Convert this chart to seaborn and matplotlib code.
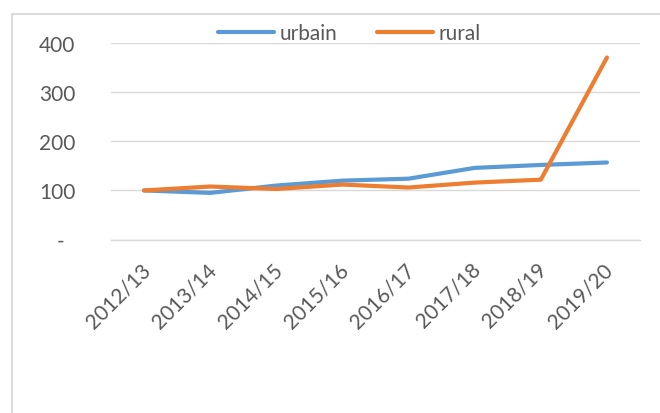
import matplotlib
matplotlib.use("Agg")
import matplotlib.pyplot as plt
import matplotlib.transforms as mtransforms
import seaborn as sns
import pandas as pd
from matplotlib.patches import Rectangle

categories = ["2012/13", "2013/14", "2014/15", "2015/16", "2016/17", "2017/18", "2018/19", "2019/20"]
urbain = [100, 95, 110, 120, 124, 146, 152, 157]
rural = [100, 108, 103, 112, 106, 116, 122, 371]
series_names = ["urbain", "rural"]
y_ticks = [0, 100, 200, 300, 400]
y_tick_labels = ["-  ", "100", "200", "300", "400"]

df = pd.DataFrame({
    "period": categories * 2,
    "value": urbain + rural,
    "series": [series_names[0]] * len(categories) + [series_names[1]] * len(categories),
})

sns.set_theme(style="white")
plt.rcParams["font.family"] = ["Lato", "DejaVu Sans"]

W, H = 660, 414
fig = plt.figure(figsize=(W / 100, H / 100), dpi=100)
ax = fig.add_axes([111 / W, 1 - 240.5 / H, (640 - 111) / W, (240.5 - 44.3) / H])

palette = {"urbain": "#5B9BD5", "rural": "#ED7D31"}
sns.lineplot(data=df, x="period", y="value", hue="series", palette=palette,
             sort=False, linewidth=3.0, ax=ax, legend=True)
for ln in ax.get_lines():
    ln.set_solid_capstyle("round")
    ln.set_solid_joinstyle("round")

ax.set_xlim(-0.5, len(categories) - 0.5)
ax.set_ylim(0, 400)
ax.set_yticks(y_ticks)
ax.set_yticklabels(y_tick_labels)
ax.set_xlabel("")
ax.set_ylabel("")
ax.grid(axis="y", color="#D9D9D9", linewidth=1.0)
ax.grid(axis="x", visible=False)
ax.set_axisbelow(True)
for s in ["top", "right", "left"]:
    ax.spines[s].set_visible(False)
ax.spines["bottom"].set_color("#D9D9D9")
ax.spines["bottom"].set_linewidth(1.0)

ax.tick_params(axis="y", length=0, pad=25.5, labelsize=15, labelcolor="#595959")
ax.tick_params(axis="x", length=0, pad=19, labelsize=15, labelcolor="#595959")
offset = mtransforms.ScaledTranslation(3 / 100, 0, fig.dpi_scale_trans)
for lab in ax.get_xticklabels():
    lab.set_rotation(45)
    lab.set_ha("right")
    lab.set_va("center")
    lab.set_rotation_mode("anchor")
    lab.set_transform(lab.get_transform() + offset)

handles, labels = ax.get_legend_handles_labels()
ax.legend(handles, labels, loc="center", bbox_to_anchor=(349 / W, 1 - 34 / H),
          bbox_transform=fig.transFigure, ncol=2, frameon=False, fontsize=15,
          handlelength=2.7, handletextpad=0.25, columnspacing=1.9,
          labelcolor="#595959")

# chart area border (extends beyond the image on right/bottom)
fig.patches.append(Rectangle((12 / W, -0.1), 1.2, 1 - 15 / H + 0.1,
                             transform=fig.transFigure, fill=False,
                             edgecolor="#D9D9D9", linewidth=1.3))

fig.savefig("out.png", dpi=100)
